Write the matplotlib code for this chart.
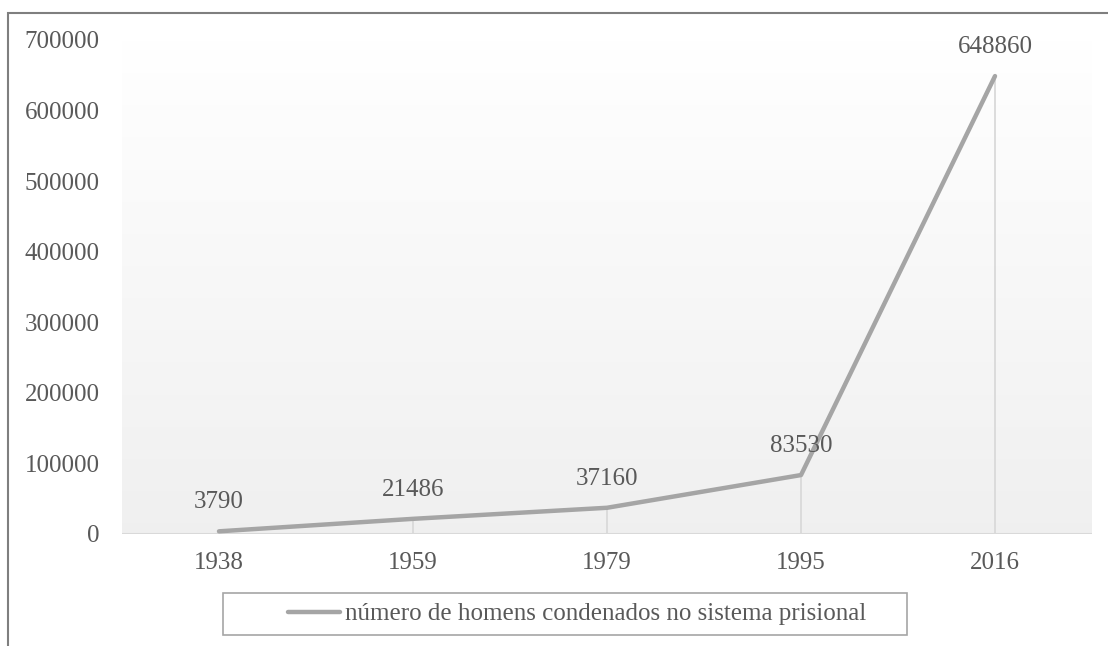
import numpy as np
import matplotlib
matplotlib.use('Agg')
import matplotlib.pyplot as plt
from matplotlib.patches import Rectangle

# Daten
anos = ['1938', '1959', '1979', '1995', '2016']
condenados = [3790, 21486, 37160, 83530, 648860]
y_ticks = [0, 100000, 200000, 300000, 400000, 500000, 600000, 700000]
legenda = 'número de homens condenados no sistema prisional'

plt.rcParams['font.family'] = ['Liberation Serif', 'DejaVu Serif']
cor_texto = '#595959'
cor_linha = '#a5a5a5'

fig = plt.figure(figsize=(11.08, 6.46), dpi=100)
W, H = 1108, 646
# Plotbereich in Pixeln: x 122..1092, y 40..534
ax = fig.add_axes([122 / W, 1 - 534 / H, 970 / W, 494 / H])

x = np.arange(len(anos))
ymax = 700000

# Verlauf im Hintergrund (oben weiss, unten hellgrau)
grad = np.linspace(0.94, 1.0, 256).reshape(-1, 1)
ax.imshow(np.dstack([grad, grad, grad]), extent=(-0.5, len(anos) - 0.5, 0, ymax),
          aspect='auto', zorder=0, origin='lower')
ax.set_xlim(-0.5, len(anos) - 0.5)
ax.set_ylim(0, ymax)

# Fallinien und Grundlinie
ax.vlines(x, 0, condenados, color='#d9d9d9', linewidth=1.3, zorder=1)
ax.axhline(0, color='#d9d9d9', linewidth=1.5, zorder=1)

ax.plot(x, condenados, color=cor_linha, linewidth=3.2, solid_capstyle='round',
        label=legenda, zorder=3)

for xi, v in zip(x, condenados):
    ax.annotate(str(v), (xi, v), xytext=(0, 16.5), textcoords='offset points',
                ha='center', va='baseline', fontsize=18, color=cor_texto, zorder=4)

ax.set_xticks(x)
ax.set_xticklabels(anos)
ax.set_yticks(y_ticks)
ax.set_yticklabels([str(t) for t in y_ticks])
ax.tick_params(axis='both', length=0, labelsize=18, labelcolor=cor_texto)
ax.tick_params(axis='x', pad=13)
ax.tick_params(axis='y', pad=16)
for s in ax.spines.values():
    s.set_visible(False)

# Legende ohne eigenen Rahmen, Kasten wie in Excel breiter gezeichnet
fig.legend(loc='center', bbox_to_anchor=(577 / W, 1 - 614 / H),
           frameon=False, fontsize=18, handlelength=2.1,
           handletextpad=0.2, borderpad=0.3, labelcolor=cor_texto)
fig.patches.append(Rectangle((223 / W, 1 - 635 / H), 684 / W, 42 / H, transform=fig.transFigure,
                             fill=False, edgecolor='#a6a6a6', linewidth=1.2))

# Rahmen um das Diagramm (rechts/unten abgeschnitten)
fig.patches.append(Rectangle((8 / W, -0.1), 1.2, 1 - 13 / H + 0.1, transform=fig.transFigure,
                             fill=False, edgecolor='#7f7f7f', linewidth=1.5))

fig.savefig('out.png', dpi=100)
